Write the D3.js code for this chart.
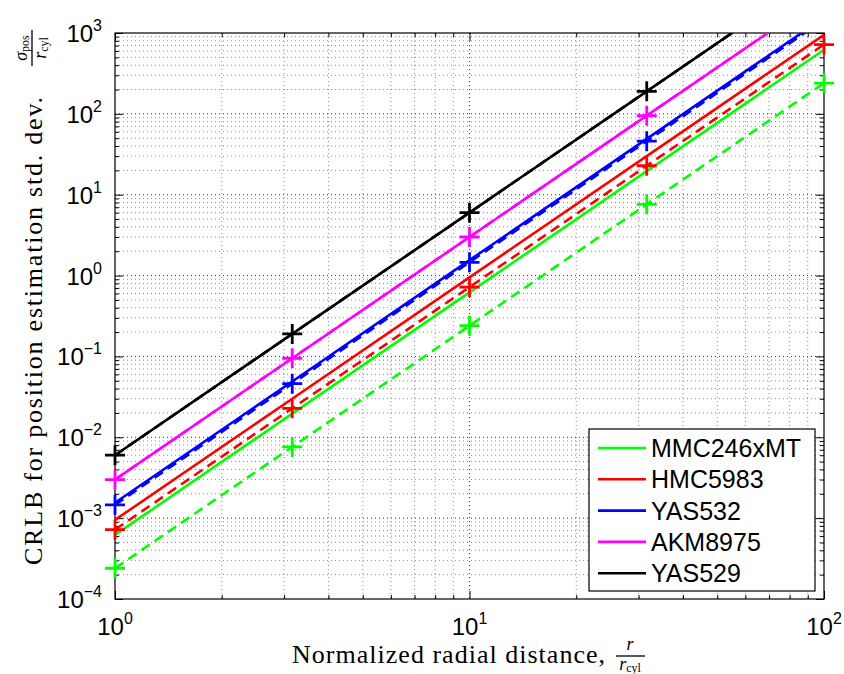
<!DOCTYPE html>
<html>
<head>
<meta charset="utf-8">
<script src="https://cdn.jsdelivr.net/npm/d3@7/dist/d3.min.js"></script>
<style>
  body { margin: 0; background: #fff; }
  .tickLabel { font-family: "Liberation Sans", Arial, sans-serif; font-size: 24px; fill: #000; }
  .axisText { font-family: "Liberation Serif", "DejaVu Serif", serif; fill: #000; }
  .legendText { font-family: "Liberation Sans", Arial, sans-serif; font-size: 25px; fill: #000; }
</style>
</head>
<body>
<div class="chart"></div>
<script>

// sensors and their line colours
var sensors = ["MMC246xMT", "HMC5983", "YAS532", "AKM8975", "YAS529"];
var colors = ["#00ff00", "#ff0000", "#0000ff", "#ff00ff", "#000000"];

// normalized radial distance r / r_cyl where values were read
var distance = [1, 3.162, 10, 31.62, 100];

// solid lines (one row per sensor)
var crlbSolid = [
    [0.00062, 0.0196, 0.62, 19.6, 620],
    [0.00095, 0.030, 0.95, 30, 950],
    [0.00155, 0.049, 1.55, 49, 1550],
    [0.0030, 0.095, 3.0, 95, 3000],
    [0.0060, 0.19, 6.0, 190, 6000]
];

// dashed lines with + markers (one row per sensor)
var crlbDashed = [
    [0.00024, 0.0076, 0.24, 7.6, 240],
    [0.00072, 0.0228, 0.72, 22.8, 720],
    [0.00146, 0.046, 1.46, 46, 1460],
    [0.0030, 0.095, 3.0, 95, 3000],
    [0.0060, 0.19, 6.0, 190, 6000]
];

var xTicks = [1, 10, 100];
var xTickExp = ["0", "1", "2"];
var yTicks = [1e-4, 1e-3, 1e-2, 1e-1, 1e0, 1e1, 1e2, 1e3];
var yTickExp = ["\u22124", "\u22123", "\u22122", "\u22121", "0", "1", "2", "3"];

var svgWidth = 844;
var svgHeight = 674;

var margin = { top: 33, right: 20, bottom: 75, left: 115 };
var width = 709;
var height = 566;

var svg = d3.select(".chart")
    .append("svg")
    .attr("width", svgWidth)
    .attr("height", svgHeight);

var chartGroup = svg.append("g")
    .attr("transform", `translate(${margin.left}, ${margin.top})`);

var xScale = d3.scaleLog().domain([1, 100]).range([0, width]);
var yScale = d3.scaleLog().domain([1e-4, 1e3]).range([height, 0]);

// minor positions 2..9 in every decade
function minors(lo, hi) {
    var out = [];
    for (var e = lo; e < hi; e++) {
        for (var k = 2; k <= 9; k++) out.push(k * Math.pow(10, e));
    }
    return out;
}
var xMinor = minors(0, 2);
var yMinor = minors(-4, 3);

// grid lines
function grid(values, horizontal, color) {
    chartGroup.append("g").selectAll("line")
        .data(values)
        .enter()
        .append("line")
        .attr("x1", d => horizontal ? 0 : xScale(d))
        .attr("x2", d => horizontal ? width : xScale(d))
        .attr("y1", d => horizontal ? yScale(d) : 0)
        .attr("y2", d => horizontal ? yScale(d) : height)
        .attr("stroke", color)
        .attr("stroke-width", 1)
        .attr("stroke-dasharray", "1,3");
}
grid(xMinor, false, "#8c8c8c");
grid(yMinor, true, "#8c8c8c");
grid(xTicks.slice(1, -1), false, "#333");
grid(yTicks.slice(1, -1), true, "#333");

// inside ticks on all four sides
function ticks(axis, values, size, transform) {
    chartGroup.append("g")
        .attr("transform", transform)
        .call(axis.tickValues(values).tickSize(size).tickSizeOuter(0).tickFormat(""))
        .call(g => g.select(".domain").remove())
        .selectAll("line").attr("stroke", "#000");
}
ticks(d3.axisBottom(xScale), xMinor, -4, `translate(0, ${height})`);
ticks(d3.axisBottom(xScale), xTicks, -8, `translate(0, ${height})`);
ticks(d3.axisTop(xScale), xMinor, -4, "translate(0, 0)");
ticks(d3.axisTop(xScale), xTicks, -8, "translate(0, 0)");
ticks(d3.axisLeft(yScale), yMinor, -4, "translate(0, 0)");
ticks(d3.axisLeft(yScale), yTicks, -8, "translate(0, 0)");
ticks(d3.axisRight(yScale), yMinor, -4, `translate(${width}, 0)`);
ticks(d3.axisRight(yScale), yTicks, -8, `translate(${width}, 0)`);

chartGroup.append("rect")
    .attr("width", width)
    .attr("height", height)
    .attr("fill", "none")
    .attr("stroke", "#000")
    .attr("stroke-width", 1.2);

// tick labels as 10^n
var xLabels = chartGroup.selectAll(".xLabel")
    .data(xTicks)
    .enter()
    .append("text")
    .attr("class", "tickLabel")
    .attr("x", d => xScale(d))
    .attr("y", height + 36)
    .attr("text-anchor", "middle");
xLabels.append("tspan").text("10");
xLabels.append("tspan").attr("font-size", "16px").attr("dy", -11).text((d, i) => xTickExp[i]);

var yLabels = chartGroup.selectAll(".yLabel")
    .data(yTicks)
    .enter()
    .append("text")
    .attr("class", "tickLabel")
    .attr("x", -13)
    .attr("y", d => yScale(d) + 9)
    .attr("text-anchor", "end");
yLabels.append("tspan").text("10");
yLabels.append("tspan").attr("font-size", "16px").attr("dy", -11).text((d, i) => yTickExp[i]);

// series
chartGroup.append("clipPath").attr("id", "plotClip")
    .append("rect").attr("width", width).attr("height", height);

var line = d3.line()
    .x((d, i) => xScale(distance[i]))
    .y(d => yScale(d));

var plotGroup = chartGroup.append("g").attr("clip-path", "url(#plotClip)");

plotGroup.selectAll(".solid")
    .data(crlbSolid)
    .enter()
    .append("path")
    .attr("d", line)
    .attr("fill", "none")
    .attr("stroke", (d, i) => colors[i])
    .attr("stroke-width", 2.6);

plotGroup.selectAll(".dashed")
    .data(crlbDashed)
    .enter()
    .append("path")
    .attr("d", line)
    .attr("fill", "none")
    .attr("stroke", (d, i) => colors[i])
    .attr("stroke-width", 2.6)
    .attr("stroke-dasharray", "10,6");

// + markers on the dashed series
crlbDashed.forEach(function (values, s) {
    var pts = values.map((v, i) => ({ x: distance[i], y: v }))
        .filter(p => p.y <= 1e3 && p.y >= 1e-4);
    chartGroup.append("g").selectAll("path")
        .data(pts)
        .enter()
        .append("path")
        .attr("d", p => {
            var cx = xScale(p.x), cy = yScale(p.y);
            return `M${cx - 10},${cy}H${cx + 10}M${cx},${cy - 10}V${cy + 10}`;
        })
        .attr("stroke", colors[s])
        .attr("stroke-width", 2.8)
        .attr("fill", "none");
});

// legend
var legend = chartGroup.append("g")
    .attr("transform", `translate(${589 - margin.left}, ${429 - margin.top})`);

legend.append("rect")
    .attr("width", 226)
    .attr("height", 162)
    .attr("fill", "#fff")
    .attr("stroke", "#000")
    .attr("stroke-width", 1.2);

var rows = legend.selectAll(".row")
    .data(sensors)
    .enter()
    .append("g")
    .attr("transform", (d, i) => `translate(0, ${19 + i * 31.3})`);

rows.append("line")
    .attr("x1", 9)
    .attr("x2", 57)
    .attr("stroke", (d, i) => colors[i])
    .attr("stroke-width", 2.6);

rows.append("text")
    .attr("class", "legendText")
    .attr("x", 62)
    .attr("y", 9)
    .text(d => d);

// axes labels
var xLab = svg.append("g").attr("class", "axisText");
xLab.append("text")
    .attr("x", 292)
    .attr("y", 663)
    .attr("font-size", "26px")
    .attr("textLength", 313)
    .text("Normalized radial distance,");
xLab.append("text")
    .attr("x", 630)
    .attr("y", 650)
    .attr("font-size", "18px")
    .attr("font-style", "italic")
    .attr("text-anchor", "middle")
    .text("r");
xLab.append("line")
    .attr("x1", 616).attr("x2", 645)
    .attr("y1", 656).attr("y2", 656)
    .attr("stroke", "#000").attr("stroke-width", 1.3);
var den = xLab.append("text")
    .attr("x", 630)
    .attr("y", 670)
    .attr("font-size", "18px")
    .attr("text-anchor", "middle");
den.append("tspan").attr("font-style", "italic").text("r");
den.append("tspan").attr("font-size", "12px").attr("dy", 2).text("cyl");

var yLab = svg.append("g")
    .attr("class", "axisText")
    .attr("transform", "translate(42, 565) rotate(-90)");
yLab.append("text")
    .attr("x", 0)
    .attr("y", 0)
    .attr("font-size", "26px")
    .attr("textLength", 468)
    .text("CRLB for position estimation std. dev.");
var num = yLab.append("text")
    .attr("x", 517)
    .attr("y", -15)
    .attr("font-size", "18px")
    .attr("text-anchor", "middle");
num.append("tspan").attr("font-style", "italic").text("\u03c3");
num.append("tspan").attr("font-size", "12px").attr("dy", 2).text("pos");
yLab.append("line")
    .attr("x1", 499).attr("x2", 535)
    .attr("y1", -10).attr("y2", -10)
    .attr("stroke", "#000").attr("stroke-width", 1.3);
var den2 = yLab.append("text")
    .attr("x", 517)
    .attr("y", 4)
    .attr("font-size", "18px")
    .attr("text-anchor", "middle");
den2.append("tspan").attr("font-style", "italic").text("r");
den2.append("tspan").attr("font-size", "12px").attr("dy", 2).text("cyl");

</script>
</body>
</html>
